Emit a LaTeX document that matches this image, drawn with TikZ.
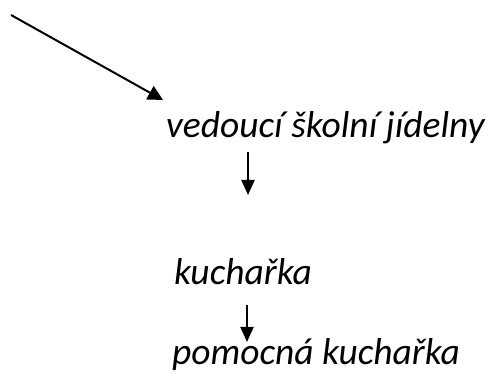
\documentclass[tikz,border=0pt]{standalone}
\usepackage{fontspec}
\setmainfont{Carlito}
\usetikzlibrary{arrows.meta, positioning}

\begin{document}
\begin{tikzpicture}[x=1pt,y=-1pt,inner sep=0pt]
    \tikzstyle{post}=[anchor=base west,font=\fontsize{37.5}{42}\selectfont\itshape]
    \tikzstyle{bigarrow}=[-{Triangle[length=15pt,width=15pt]},line width=2pt]
    \tikzstyle{downarrow}=[-{Triangle[length=15pt,width=13pt]},line width=2pt]
    \useasboundingbox (0,0) rectangle (488,390);

    \node[post] (V) at (166,138) {vedoucí školní jídelny};
    \node[post] (K) at (174,285) {kuchařka};
    \node[post] (P) at (172,365) {pomocná kuchařka};

    \coordinate (S) at (11,15);
    \coordinate (E) at (163,100);
    \coordinate (V1) at (248,152);
    \coordinate (V2) at (248,195);
    \coordinate (K1) at (247,305);
    \coordinate (K2) at (247,342);

    \draw[bigarrow] (S) -- (E);
    \draw[downarrow] (V1) -- (V2);
    \draw[downarrow] (K1) -- (K2);
\end{tikzpicture}
\end{document}
